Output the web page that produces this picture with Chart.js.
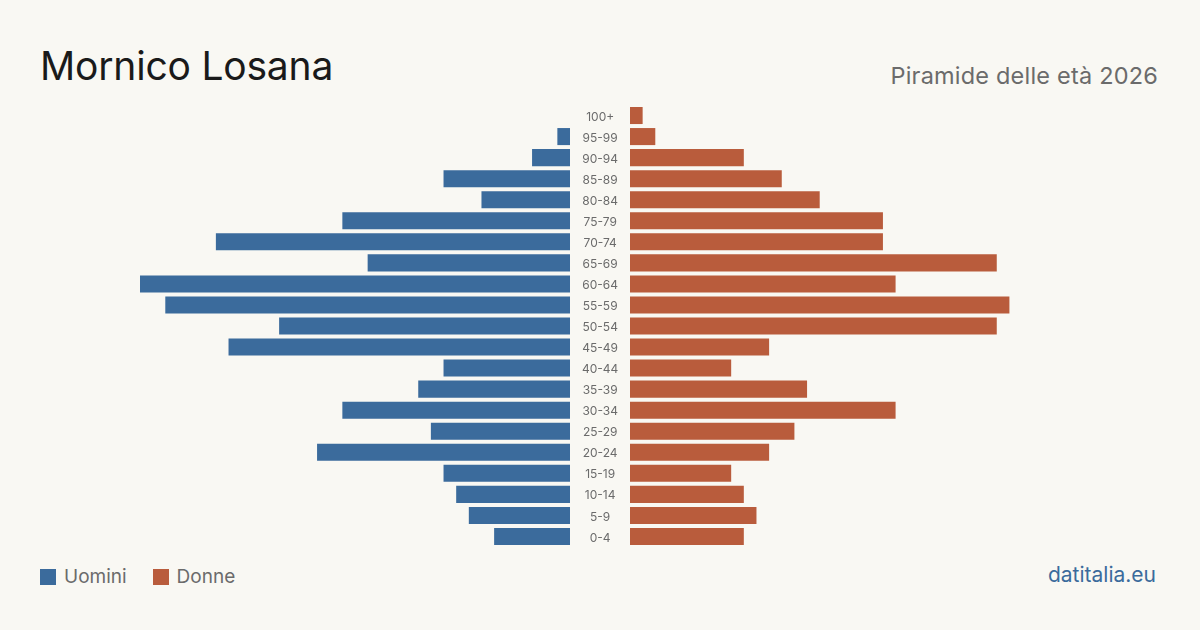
<!DOCTYPE html>
<html>
<head>
<meta charset="utf-8">
<script src="https://cdn.jsdelivr.net/npm/chart.js@4"></script>
<style>
  body { margin: 0; width: 1200px; height: 630px; background: #f9f8f3; font-family: Inter, sans-serif; position: relative; overflow: hidden; }
  h1 { position: absolute; left: 40px; top: 41px; margin: 0; font-size: 39px; font-weight: 400; color: #1a1a1a; letter-spacing: -0.2px; line-height: 50px; }
  .sub { position: absolute; right: 42px; top: 61px; font-size: 23.5px; color: #6b6b6b; line-height: 30px; letter-spacing: 0.2px; }
  .legend { position: absolute; left: 40px; top: 565px; font-size: 19px; color: #6b6b6b; display: flex; align-items: center; }
  .legend span.box { display: inline-block; width: 16px; height: 16px; margin-right: 8px; }
  .legend .item { display: flex; align-items: center; margin-right: 26px; }
  .brand { position: absolute; right: 44px; top: 562px; font-size: 21px; color: #3b6b9c; }
  #left { position: absolute; left: 140px; top: 105px; }
  #right { position: absolute; left: 630px; top: 105px; }
</style>
</head>
<body>
<h1>Mornico Losana</h1>
<div class="sub">Piramide delle età 2026</div>
<div class="legend">
  <div class="item"><span class="box" style="background:#3b6b9c"></span>Uomini</div>
  <div class="item"><span class="box" style="background:#b95c3c"></span>Donne</div>
</div>
<div class="brand">datitalia.eu</div>
<div id="left" style="width:490px;height:442px"><canvas id="cl"></canvas></div>
<div id="right" style="width:430px;height:442px"><canvas id="cr"></canvas></div>
<script>
// age groups, top to bottom
const ageGroups = ['100+', '95-99', '90-94', '85-89', '80-84', '75-79', '70-74', '65-69', '60-64', '55-59',
  '50-54', '45-49', '40-44', '35-39', '30-34', '25-29', '20-24', '15-19', '10-14', '5-9', '0-4'];
const men = [0, 1, 3, 10, 7, 18, 28, 16, 34, 32, 23, 27, 10, 12, 18, 11, 20, 10, 9, 8, 6];
const women = [1, 2, 9, 12, 15, 20, 20, 29, 21, 30, 29, 11, 8, 14, 21, 13, 11, 8, 9, 10, 9];
const maxVal = Math.max(...men, ...women);

const blue = '#3b6b9c';
const orange = '#b95c3c';

function baseOptions(reverse, showLabels) {
  return {
    indexAxis: 'y',
    responsive: true,
    maintainAspectRatio: false,
    animation: false,
    layout: { padding: 0 },
    plugins: { legend: { display: false }, tooltip: { enabled: false } },
    scales: {
      x: { min: 0, max: maxVal, reverse: reverse, display: false },
      y: {
        display: showLabels,
        position: 'right',
        grid: { display: false },
        border: { display: false },
        ticks: { color: '#6b6b6b', font: { family: 'Inter', size: 12 }, crossAlign: 'center', padding: 4, labelOffset: 1.5 },
        afterFit: (axis) => {
          axis.width = showLabels ? 60 : 0;
          axis.paddingTop = 0;
          axis.paddingBottom = 0;
        }
      }
    }
  };
}

new Chart(document.getElementById('cl'), {
  type: 'bar',
  data: { labels: ageGroups, datasets: [{ data: men, backgroundColor: blue, barPercentage: 0.81, categoryPercentage: 1 }] },
  options: baseOptions(true, true)
});

new Chart(document.getElementById('cr'), {
  type: 'bar',
  data: { labels: ageGroups, datasets: [{ data: women, backgroundColor: orange, barPercentage: 0.81, categoryPercentage: 1 }] },
  options: baseOptions(false, false)
});
</script>
</body>
</html>
